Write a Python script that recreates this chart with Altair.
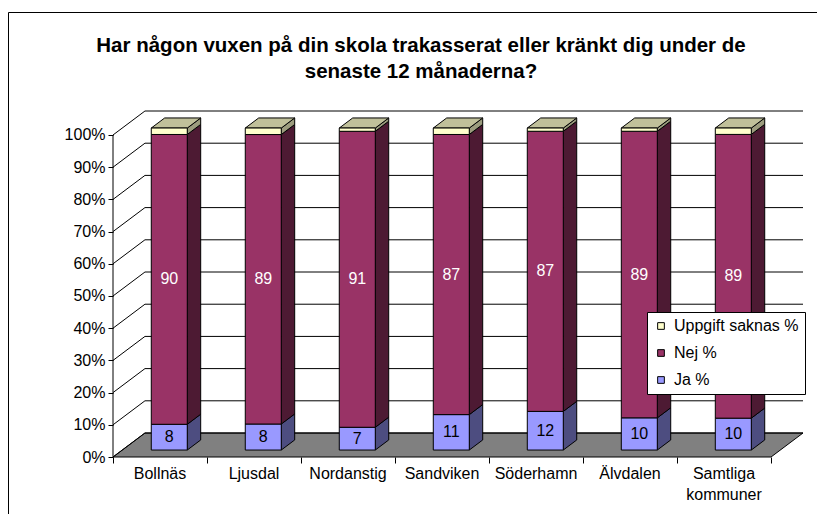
import altair as alt
import pandas as pd

# ---------------- data ----------------
categories = ["Bollnäs", "Ljusdal", "Nordanstig", "Sandviken", "Söderhamn", "Älvdalen", "Samtliga kommuner"]
ja = [8, 8, 7, 11, 12, 10, 10]
nej = [90, 89, 91, 87, 87, 89, 89]
saknas = [2, 2, 1, 2, 1, 1, 2]
series = ["Ja %", "Nej %", "Uppgift saknas %"]
pct_ticks = list(range(0, 101, 10))
title_lines = ["Har någon vuxen på din skola trakasserat eller kränkt dig under de",
               "senaste 12 månaderna?"]

# ---------------- styles ----------------
front_colors = ["#9999FF", "#993366", "#FFFFCC"]
side_colors = ["#4D4D80", "#4D1A33", "#9C9C7E"]
top_color = "#C0C09A"
FONT = "Liberation Sans"

W, H = 690, 346
n = len(categories)
DEPTH_X = 0.34     # depth of the 3D box, x units
DEPTH_Y = 7.45     # depth of the 3D box, y units (%)
YMAX = 107.45
FB, FD = 0.29, 0.42   # bar front position / bar depth as fraction of box depth
HALF = 0.1915         # half bar width, x units

xs = alt.Scale(domain=[0, n + DEPTH_X], nice=False, zero=False)
ys = alt.Scale(domain=[0, YMAX], nice=False, zero=False)

# ---------------- geometry tables built from the data (100% stacked) ----------------
fronts, sides, tops, labels = [], [], [], []
for i, c in enumerate(categories):
    total = ja[i] + nej[i] + saknas[i]
    low = 0.0
    x1 = i + 0.5 + FB * DEPTH_X - HALF
    x2 = x1 + 2 * HALF
    for s, vals, sc in zip(series, [ja, nej, saknas], side_colors):
        v = vals[i]
        high = low + 100.0 * v / total
        yb = FB * DEPTH_Y + low
        yt = FB * DEPTH_Y + high
        fronts.append(dict(cat=c, serie=s, x1=x1, x2=x2, y1=yb, y2=yt))
        key = f"{i}-{s}"
        sides.append(dict(key=key, x=x2, y1=yb, y2=yt, fill=sc))
        sides.append(dict(key=key, x=x2 + FD * DEPTH_X, y1=yb + FD * DEPTH_Y,
                          y2=yt + FD * DEPTH_Y, fill=sc))
        if s != "Uppgift saknas %":
            labels.append(dict(x=(x1 + x2) / 2, y=(yb + yt) / 2, text=str(v),
                               col="black" if s == "Ja %" else "white"))
        low = high
    ytop = FB * DEPTH_Y + 100
    tops.append(dict(key=i, y=ytop, x1=x1, x2=x2))
    tops.append(dict(key=i, y=ytop + FD * DEPTH_Y, x1=x1 + FD * DEPTH_X, x2=x2 + FD * DEPTH_X))

floor = pd.DataFrame([dict(y=0, x1=0, x2=n), dict(y=DEPTH_Y, x1=DEPTH_X, x2=n + DEPTH_X)])
back_grid = pd.DataFrame([dict(x1=DEPTH_X, x2=n + DEPTH_X, y1=v + DEPTH_Y, y2=v + DEPTH_Y) for v in pct_ticks])
side_grid = pd.DataFrame([dict(x1=0, x2=DEPTH_X, y1=v, y2=v + DEPTH_Y) for v in pct_ticks])
front_axis = pd.DataFrame([dict(x=0, y1=0, y2=100)])
cat_df = pd.DataFrame(dict(cat=categories, x=[i + 0.5 for i in range(n)]))

x_axis = alt.Axis(values=list(range(n + 1)), title=None, domain=False, grid=False,
                  tickSize=6, tickColor="black", labels=False)
y_axis = alt.Axis(values=pct_ticks, title=None, domain=False, grid=False, tickSize=5,
                  tickColor="black", labelFontSize=16, labelFont=FONT, labelColor="black",
                  labelPadding=3, labelExpr="datum.value + '%'")


def X(field):
    return alt.X(field, scale=xs, axis=x_axis, stack=None)


def Y(field):
    return alt.Y(field, scale=ys, axis=y_axis, stack=None)


floor_layer = alt.Chart(floor).mark_area(orient="horizontal", fill="#808080", stroke="black",
                                         strokeWidth=1).encode(
    y=Y("y:Q"), x=X("x1:Q"), x2="x2:Q")

grid_back = alt.Chart(back_grid).mark_rule(color="black", strokeWidth=1).encode(
    x=X("x1:Q"), x2="x2:Q", y=Y("y1:Q"), y2="y2:Q")
grid_side = alt.Chart(side_grid).mark_rule(color="black", strokeWidth=1).encode(
    x=X("x1:Q"), x2="x2:Q", y=Y("y1:Q"), y2="y2:Q")
axis_line = alt.Chart(front_axis).mark_rule(color="black", strokeWidth=1).encode(
    x=X("x:Q"), y=Y("y1:Q"), y2="y2:Q")

side_layer = alt.Chart(pd.DataFrame(sides)).mark_area(orient="vertical", stroke="black",
                                                      strokeWidth=1).encode(
    x=X("x:Q"), y=Y("y1:Q"), y2="y2:Q",
    fill=alt.Fill("fill:N", scale=None),
    detail="key:N",
)

top_layer = alt.Chart(pd.DataFrame(tops)).mark_area(orient="horizontal", fill=top_color,
                                                    stroke="black", strokeWidth=1).encode(
    y=Y("y:Q"), x=X("x1:Q"), x2="x2:Q", detail="key:N")

legend_order = list(reversed(series))
legend_colors = list(reversed(front_colors))
front_layer = alt.Chart(pd.DataFrame(fronts)).mark_rect(stroke="black", strokeWidth=1).encode(
    x=X("x1:Q"), x2="x2:Q", y=Y("y1:Q"), y2="y2:Q",
    color=alt.Color("serie:N", scale=alt.Scale(domain=legend_order, range=legend_colors),
                    legend=alt.Legend(title=None, orient="none", legendX=534, legendY=201,
                                      fillColor="white", strokeColor="black", padding=6,
                                      labelFontSize=16, labelFont=FONT, labelColor="black",
                                      symbolType="square", symbolSize=45,
                                      symbolStrokeColor="black", symbolStrokeWidth=1,
                                      rowPadding=11, labelOffset=5, labelLimit=300)),
)

label_layer = alt.Chart(pd.DataFrame(labels)).mark_text(fontSize=16, font=FONT).encode(
    x=X("x:Q"), y=Y("y:Q"),
    text="text:N",
    color=alt.Color("col:N", scale=None),
)

cat_labels = alt.Chart(cat_df).mark_text(fontSize=16, font=FONT, color="black",
                                         baseline="top", lineBreak=" ", lineHeight=21).encode(
    x=X("x:Q"),
    y=alt.value(H + 9),
    text="cat:N",
)

title_layer = alt.Chart(pd.DataFrame([{"a": 1}])).mark_text(
    text=title_lines, fontSize=20.5, fontWeight="bold", font=FONT, color="black",
    align="center", baseline="alphabetic", lineHeight=26).encode(
    x=alt.value(308), y=alt.value(-59))

border = alt.Chart(pd.DataFrame([{"a": 1}])).mark_rect(fill=None, stroke="black",
                                                      strokeWidth=1).encode(
    x=alt.value(-104.5), x2=alt.value(W + 60), y=alt.value(-98.5), y2=alt.value(H + 90))

chart = alt.layer(
    border, title_layer, floor_layer, grid_back, grid_side, axis_line, side_layer, top_layer,
    front_layer, label_layer, cat_labels
).properties(
    width=W, height=H,
    autosize=alt.AutoSizeParams(type="none"),
    padding={"left": 105, "top": 103, "right": 14, "bottom": 57},
    background="white",
).configure_view(stroke=None)

chart.save("out.html", embed_options={"renderer": "svg", "actions": False})
